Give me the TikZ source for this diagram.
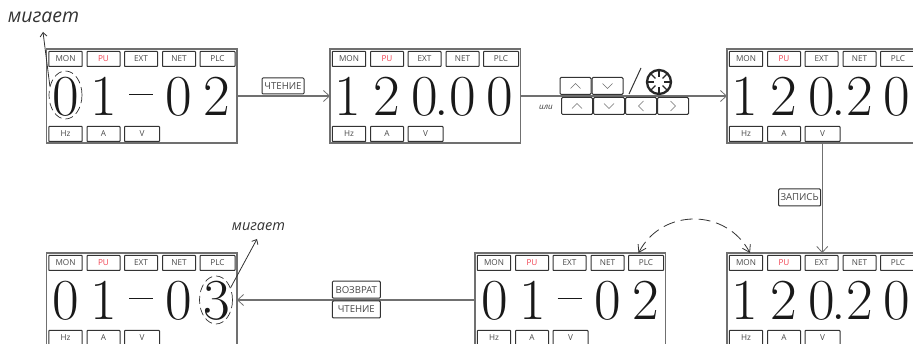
\documentclass[tikz,border=0pt]{standalone}
\usepackage{fontspec}
\newfontfamily\labfont{Open Sans}
\usetikzlibrary{arrows.meta,shapes.geometric,calc}
\definecolor{ink}{HTML}{333333}
\definecolor{redlab}{HTML}{F0404F}
\tikzset{
  panelbox/.style={draw=ink!70,line width=1.4pt,minimum width=190.5pt,minimum height=94pt,inner sep=0,outer sep=0,anchor=north west},
  keybox/.style={draw=ink,line width=1pt,rounded corners=0.6pt,inner sep=0,font=\labfont\fontsize{8.2}{8}\selectfont,text=ink!90,anchor=north west},
  tagbox/.style={draw=ink,line width=1pt,rounded corners=1pt,fill=white,inner sep=0,font=\labfont\fontsize{9.6}{10}\selectfont,text=ink!90},
  digit/.style={inner sep=0,anchor=base,font=\fontsize{58}{58}\selectfont,text=black!90},
  dashrule/.style={draw=black!90,line width=1.5pt},
  flow/.style={draw=ink!70,line width=1.2pt,-{Straight Barb[length=6pt,width=11pt,line width=0.8pt]}},
  thinarrow/.style={draw=ink,line width=0.8pt,-{Straight Barb[length=4pt,width=7pt,line width=0.8pt]}},
  blink/.style={draw=ink,line width=0.7pt,dash pattern=on 8pt off 4pt,ellipse,minimum width=33pt,minimum height=48pt,inner sep=0},
  blinktext/.style={inner sep=0,text=ink,font=\labfont\itshape},
  chev/.style={draw=ink!70,line width=0.6pt},
  pad/.style={draw=ink,line width=1pt,rounded corners=1.2pt,minimum width=31pt,minimum height=17pt,inner sep=0,anchor=north west},
}
% #1 id, #2 x, #3 y
\newcommand{\lcdpanel}[3]{%
  \node[panelbox] (#1) at (#2,#3) {};
  \foreach \kn/\kx/\kw/\kt in {mon/1.8/33.4/MON,ext/77.5/33/EXT,net/115.5/33/NET,plc/153/35/PLC}
    \node[keybox,minimum width=\kw pt,minimum height=15pt] (#1\kn) at ($(#2,#3)+(\kx,2)$) {\kt};
  \node[keybox,minimum width=33pt,minimum height=15pt,text=redlab] (#1pu) at ($(#2,#3)+(40,2)$) {PU};
  \foreach \kn/\kx/\kw/\kt in {hz/1.8/33.4/Hz,a/40/33/A,v/77.5/35/V}
    \node[keybox,minimum width=\kw pt,minimum height=15pt] (#1\kn) at ($(#2,#3)+(\kx,77)$) {\kt};
}
% #1 id, #2 x, #3 y, #4 list: name/relx/char
\newcommand{\lcddigits}[4]{%
  \foreach \dn/\dx/\dc in {#4}
    \node[digit] (#1\dn) at ($(#2,#3)+(\dx,67)$) {\dc};
}
\newcommand{\lcddash}[2]{%
  \draw[dashrule] ($(#1,#2)+(82.5,45.5)$) -- ($(#1,#2)+(106.5,45.5)$);
}
\begin{document}
\begin{tikzpicture}[x=1pt,y=-1pt]
\useasboundingbox (0,0) rectangle (913,344);
% panels
\lcdpanel{pa}{46.5}{49}
\lcdpanel{pb}{330}{49}
\lcdpanel{pc}{727}{49}
\lcdpanel{pd}{46.5}{253}
\lcdpanel{pe}{475}{253}
\lcdpanel{pf}{727}{253}
% digits
\lcddigits{pa}{46.5}{49}{a/19.5/0,b/57.5/1,d/132.5/0,e/170.5/2}
\lcddash{46.5}{49}
\lcddigits{pb}{330}{49}{a/18/1,b/57/2,c/95/0,p/111.5/.,d/133/0,e/170/0}
\lcddigits{pc}{727}{49}{a/18/1,b/57/2,c/95/0,p/111.5/.,d/133/2,e/170/0}
\lcddigits{pf}{727}{253}{a/18/1,b/57/2,c/95/0,p/111.5/.,d/133/2,e/170/0}
\lcddigits{pd}{46.5}{253}{a/19.5/0,b/57.5/1,d/132.5/0,e/170.5/3}
\lcddash{46.5}{253}
\lcddigits{pe}{475}{253}{a/19.5/0,b/57.5/1,d/132.5/0,e/170.5/2}
\lcddash{475}{253}
% connectors
\draw[flow] (pa.east) -- (pb.west);
\draw[flow] (pb.east) -- (pc.west);
\draw[flow] (pc.south) -- (pf.north);
\draw[flow] (pe.west) -- (pd.east);
% labels on connectors
\node[tagbox,minimum width=42pt,minimum height=16pt] (tread) at (283,86) {ЧТЕНИЕ};
\node[tagbox,minimum width=42pt,minimum height=17pt] (twrite) at (799.6,197.5) {ЗАПИСЬ};
\node[tagbox,minimum width=48pt,minimum height=17pt] (tback) at (356.3,289.7) {ВОЗВРАТ};
\node[tagbox,minimum width=48pt,minimum height=17pt] (tread2) at (356.3,309.5) {ЧТЕНИЕ};
% dashed arc
\draw[draw=ink,line width=0.8pt,dash pattern=on 12pt off 6pt,{Straight Barb[length=7pt,width=9pt,line width=0.8pt]}-{Straight Barb[length=7pt,width=9pt,line width=0.8pt]}]
  ($(pe.north east)+(-27,0)$) .. controls (662,208) and (726,208) .. ($(pf.north west)+(23,0)$);
% blink marks
\node[blink] (ba) at (65.5,95) {};
\node[blink] (bd) at (216,300) {};
\coordinate (ta) at (43,32);
\coordinate (td) at (257,239);
\node[blinktext,font=\labfont\itshape\fontsize{19.5}{20}\selectfont] (la) at (43.5,17) {мигает};
\node[blinktext,font=\labfont\itshape\fontsize{14.5}{15}\selectfont] (ld) at (258.5,226.5) {мигает};
\draw[thinarrow] (ba.150) -- (ta);
\draw[thinarrow] (bd.40) -- (td);
% key pads
\foreach \kn/\kx/\ky in {ua/559.5/77,ub/591.5/77,uc/561/97,ud/593/97,ue/625/97,uf/657/97}
  \node[pad,fill=white] (\kn) at (\kx,\ky) {};
\foreach \kn in {ua,uc}
  \draw[chev] ($(\kn.center)+(-5,2.5)$) -- ($(\kn.center)+(0,-2.5)$) -- ($(\kn.center)+(5,2.5)$);
\foreach \kn in {ub,ud}
  \draw[chev] ($(\kn.center)+(-5,-2.5)$) -- ($(\kn.center)+(0,2.5)$) -- ($(\kn.center)+(5,-2.5)$);
\draw[chev] ($(ue.center)+(2.5,-5)$) -- ($(ue.center)+(-2.5,0)$) -- ($(ue.center)+(2.5,5)$);
\draw[chev] ($(uf.center)+(-2.5,-5)$) -- ($(uf.center)+(2.5,0)$) -- ($(uf.center)+(-2.5,5)$);
\node[inner sep=0,text=ink,font=\labfont\itshape\fontsize{8}{8}\selectfont] (ili) at (546,107) {или};
\coordinate (sa) at (629,94);
\coordinate (sb) at (641,68);
\draw[ink,line width=1pt] (sa) -- (sb);
\node[circle,draw=black!85,line width=2.3pt,minimum size=24pt,inner sep=0,fill=white] (knob) at (659,82) {};
\foreach \ang in {0,45,...,315}
  \draw[black!85,line width=1.1pt] (knob.center) ++(\ang:5) -- ++(\ang:7);
\end{tikzpicture}
\end{document}
